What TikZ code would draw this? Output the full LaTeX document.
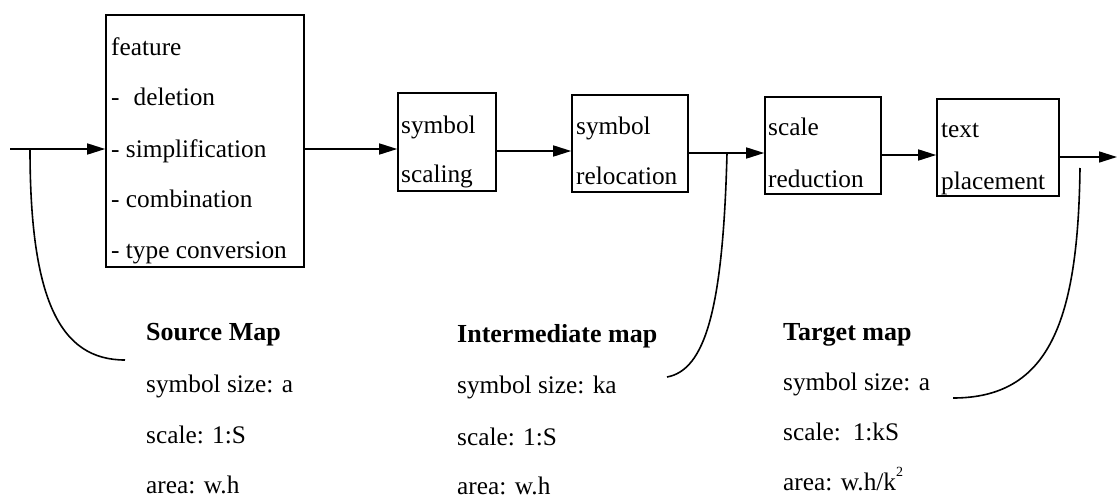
\documentclass[tikz,border=0pt]{standalone}
\usepackage{fontspec}
\setmainfont{Liberation Serif}
\usetikzlibrary{arrows.meta}
\begin{document}
\begin{tikzpicture}[x=1pt,y=-1pt,
  procbox/.style={draw, line width=1.6pt, inner sep=0pt, rectangle},
  lbl/.style={anchor=base west, inner sep=0pt, font=\fontsize{25.3}{28}\selectfont},
  hd/.style={lbl, font=\fontsize{26}{28}\selectfont\bfseries},
  arr/.style={line width=1.6pt, -{Triangle[length=18pt,width=11pt]}},
  crv/.style={line width=1.6pt}]
\useasboundingbox (0,0) rectangle (1119,498);
% boxes
\node[procbox, minimum width=198pt, minimum height=252pt] (fbox) at (205,141) {};
\node[procbox, minimum width=98pt, minimum height=98pt] (ssc) at (447,142) {};
\node[procbox, minimum width=116pt, minimum height=97pt] (srel) at (630,143.5) {};
\node[procbox, minimum width=116pt, minimum height=97pt] (sred) at (823,145.5) {};
\node[procbox, minimum width=122pt, minimum height=97pt] (tpl) at (998,147.5) {};
% box texts
\node[lbl] (f1) at (111,55) {feature};
\node[lbl] (f2) at (111,105) {-\hspace{14pt}deletion};
\node[lbl] (f3) at (111,157) {- simplification};
\node[lbl] (f4) at (111,207) {- combination};
\node[lbl] (f5) at (111,258) {- type conversion};
\node[lbl] (s1) at (401,133) {symbol};
\node[lbl] (s2) at (401,182) {scaling};
\node[lbl] (r1) at (576,134) {symbol};
\node[lbl] (r2) at (576,184) {relocation};
\node[lbl] (d1) at (768,135) {scale};
\node[lbl] (d2) at (768,187) {reduction};
\node[lbl] (t1) at (941,137) {text};
\node[lbl] (t2) at (941,189) {placement};
% connectors
\coordinate (in) at (10,149);
\coordinate (out) at (1117,157);
\coordinate (j1) at (30,149);
\coordinate (j2) at (727,153);
\draw[arr] (in) -- (fbox.west |- in);
\draw[arr] (fbox.east |- 0,149) -- (ssc.west |- 0,149);
\draw[arr] (ssc.east |- 0,151) -- (srel.west |- 0,151);
\draw[arr] (srel.east |- 0,153) -- (sred.west |- 0,153);
\draw[arr] (sred.east |- 0,155) -- (tpl.west |- 0,155);
\draw[arr] (tpl.east |- out) -- (out);
% curves
\coordinate (e1) at (125,360);
\coordinate (e2) at (667,377);
\coordinate (s3) at (1080,168);
\coordinate (e3) at (953,398);
\draw[crv] (j1) .. controls (30,300) and (60,360) .. (e1);
\draw[crv] (j2) .. controls (723,310) and (705,370) .. (e2);
\draw[crv] (s3) .. controls (1078,320) and (1050,398) .. (e3);
% map descriptions
\node[hd] (sm) at (146,340) {Source Map};
\node[lbl] (sm1) at (146,392) {symbol size: a};
\node[lbl] (sm2) at (146,443) {scale: 1:S};
\node[lbl] (sm3) at (146,493) {area: w.h};
\node[hd] (im) at (457,342) {Intermediate map};
\node[lbl] (im1) at (457,393) {symbol size: ka};
\node[lbl] (im2) at (457,445) {scale: 1:S};
\node[lbl] (im3) at (457,494) {area: w.h};
\node[hd] (tm) at (783,340) {Target map};
\node[lbl] (tm1) at (783,390) {symbol size: a};
\node[lbl] (tm2) at (783,440) {scale:\hspace{12pt}1:kS};
\node[lbl] (tm3) at (783,490) {area: w.h/k\raisebox{14pt}{\fontsize{14}{14}\selectfont 2}};
\end{tikzpicture}
\end{document}
